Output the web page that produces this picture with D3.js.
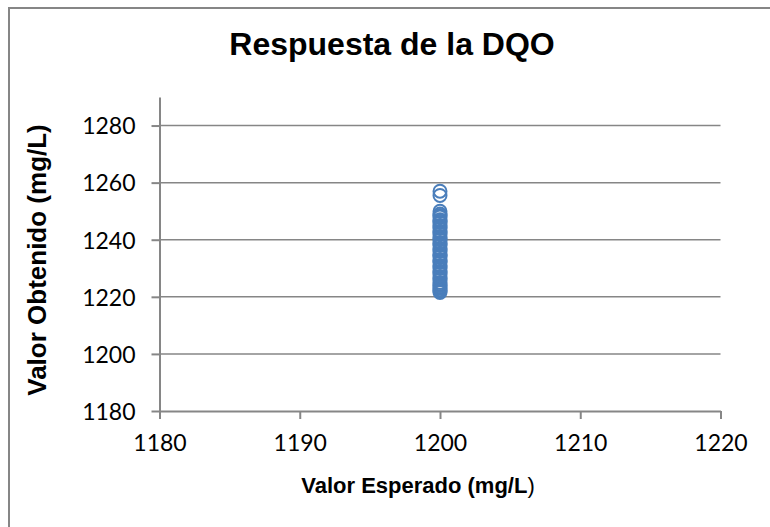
<!DOCTYPE html>
<html>
<head>
<meta charset="utf-8">
<script src="https://cdn.jsdelivr.net/npm/d3@7"></script>
<style>
  body { margin: 0; background: #fff; }
</style>
</head>
<body>
<div id="chart"></div>
<script>
// Data
const valorEsperado = [1200, 1200, 1200, 1200, 1200, 1200, 1200, 1200, 1200, 1200,
                       1200, 1200, 1200, 1200, 1200, 1200, 1200, 1200, 1200, 1200,
                       1200, 1200, 1200, 1200, 1200, 1200, 1200, 1200, 1200, 1200,
                       1200, 1200, 1200, 1200, 1200, 1200, 1200, 1200, 1200, 1200,
                       1200, 1200, 1200, 1200, 1200, 1200, 1200];
const valorObtenido = [1257, 1255.5, 1250, 1249, 1248.5, 1248, 1247, 1246.5, 1246, 1245,
                       1244.5, 1244, 1243, 1242.5, 1242, 1241, 1240.5, 1240, 1239, 1238.5,
                       1238, 1237, 1236.5, 1236, 1235, 1234.5, 1234, 1233, 1232.5, 1232,
                       1231, 1230.5, 1230, 1229, 1228.5, 1228, 1227, 1226.5, 1226, 1225,
                       1224.5, 1224, 1223.5, 1223, 1222.5, 1222, 1221.5];
const xTicks = [1180, 1190, 1200, 1210, 1220];
const yTicks = [1180, 1200, 1220, 1240, 1260, 1280];

const W = 770, H = 527;
const grey = "#868686";
const blue = "#4a7ebb";

const svg = d3.select("#chart")
    .append("svg")
        .attr("width", W)
        .attr("height", H);

// Chart frame (only left and top edges fall inside the picture)
svg.append("path")
    .attr("d", "M9,527 L9,8 L770,8")
    .attr("fill", "none")
    .attr("stroke", grey)
    .attr("stroke-width", 2);

// Scales
const x = d3.scaleLinear()
    .domain([1180, 1220])
    .range([159.5, 720.5]);
const y = d3.scaleLinear()
    .domain([1180, 1290])
    .range([411, 97]);

// Gridlines
svg.append("g")
    .selectAll("line")
    .data(yTicks.filter(d => d > 1180))
    .join("line")
        .attr("x1", x(1180))
        .attr("x2", x(1220))
        .attr("y1", d => y(d))
        .attr("y2", d => y(d))
        .attr("stroke", grey)
        .attr("stroke-width", 1.5);

// Y axis
const yAxis = svg.append("g")
    .attr("transform", `translate(${x(1180)},0)`)
    .call(d3.axisLeft(y).tickValues(yTicks).tickFormat(d3.format("d")).tickSize(8).tickSizeOuter(0));

// X axis
const xAxis = svg.append("g")
    .attr("transform", `translate(0,${y(1180)})`)
    .call(d3.axisBottom(x).tickValues(xTicks).tickFormat(d3.format("d")).tickSize(8).tickSizeOuter(0));

[yAxis, xAxis].forEach(function(ax) {
    ax.select(".domain").attr("stroke", grey).attr("stroke-width", 2);
    ax.selectAll(".tick line").attr("stroke", grey).attr("stroke-width", 2);
    ax.selectAll(".tick text")
        .style("font-family", "Lato, 'Open Sans', sans-serif")
        .style("font-size", "23px")
        .attr("fill", "#000");
});
yAxis.selectAll(".tick text").attr("x", -24).attr("dy", "0.36em");
xAxis.selectAll(".tick text").attr("y", 24).attr("dy", "0.71em");

// Points
svg.append("g")
    .selectAll("circle")
    .data(valorObtenido)
    .join("circle")
        .attr("cx", (d, i) => x(valorEsperado[i]))
        .attr("cy", d => y(d))
        .attr("r", 6.5)
        .attr("fill", "none")
        .attr("stroke", blue)
        .attr("stroke-width", 2);

// Title
svg.append("text")
    .attr("x", 392)
    .attr("y", 55)
    .style("text-anchor", "middle")
    .style("font-family", "'Liberation Sans', Arial, sans-serif")
    .style("font-size", "32px")
    .style("font-weight", "bold")
    .text("Respuesta de la DQO");

// X axis label
const xLabel = svg.append("text")
    .attr("x", 418)
    .attr("y", 493)
    .style("text-anchor", "middle")
    .style("font-family", "'Liberation Sans', Arial, sans-serif")
    .style("font-size", "22px")
    .style("font-weight", "bold");
xLabel.append("tspan").text("Valor Esperado (mg/L");
xLabel.append("tspan").style("font-weight", "normal").text(")");

// Y axis label
svg.append("text")
    .attr("transform", "translate(46,260) rotate(-90)")
    .style("text-anchor", "middle")
    .style("font-family", "'Liberation Sans', Arial, sans-serif")
    .style("font-size", "26px")
    .style("font-weight", "bold")
    .text("Valor Obtenido (mg/L)");
</script>
</body>
</html>
